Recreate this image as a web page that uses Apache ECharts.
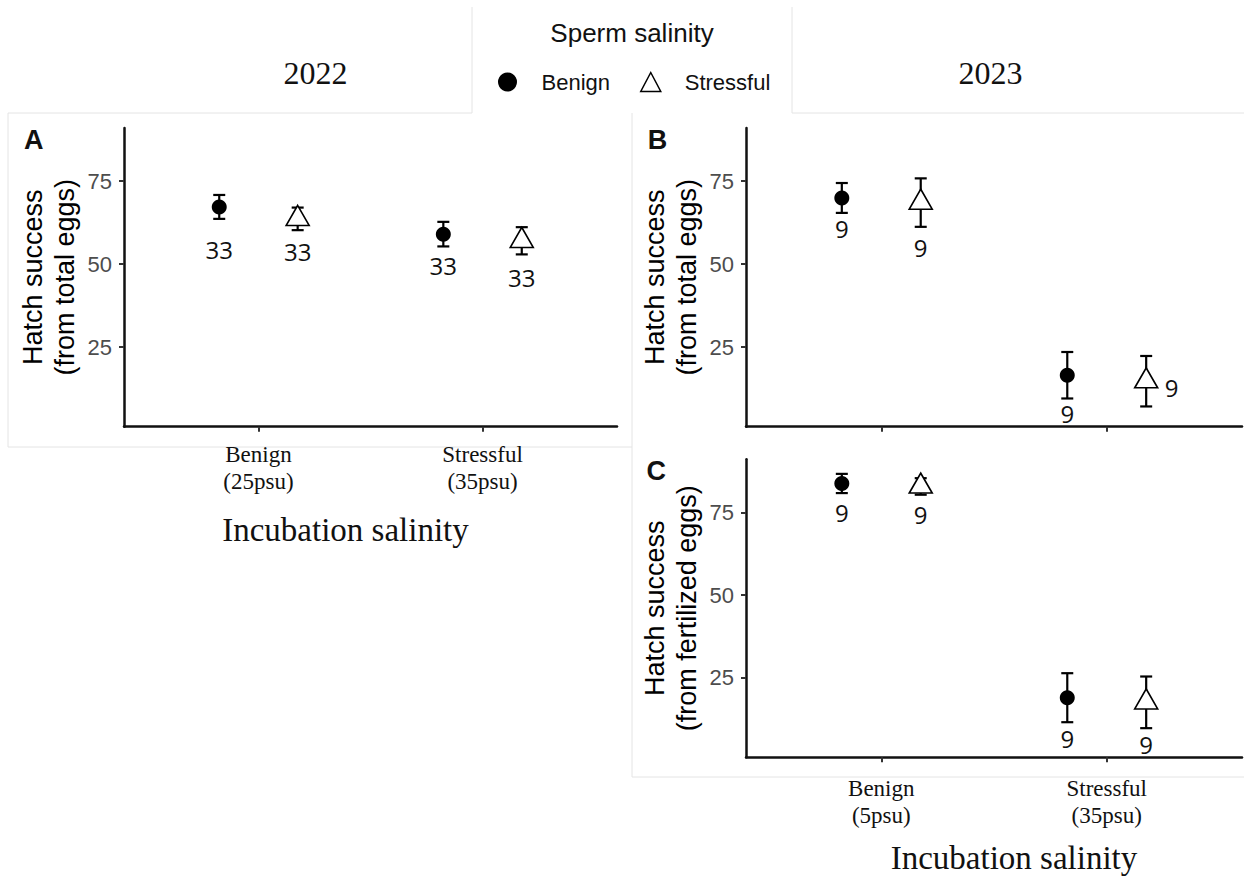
<!DOCTYPE html>
<html>
<head>
<meta charset="utf-8">
<title>Hatch success by incubation and sperm salinity</title>
<script src="https://cdn.jsdelivr.net/npm/echarts@6/dist/echarts.min.js"></script>
<style>
  html, body { margin: 0; padding: 0; background: #ffffff; }
  #chart { width: 1244px; height: 878px; }
</style>
</head>
<body>
<div id="chart"></div>
<script>
// Incubation salinity groups and axis tick labels
const incubationGroups = ['Benign', 'Stressful'];
const xLabels2022 = ['Benign\n(25psu)', 'Stressful\n(35psu)'];
const xLabels2023 = ['Benign\n(5psu)', 'Stressful\n(35psu)'];
const yTickValues = [25, 50, 75];

// A - 2022, hatch success (% of total eggs): mean, standard error, sample size
const a_benignSpermMean = [67.2, 59.0];
const a_benignSpermSE = [3.6, 3.7];
const a_benignSpermN = [33, 33];
const a_stressSpermMean = [63.6, 57.0];
const a_stressSpermSE = [3.4, 4.1];
const a_stressSpermN = [33, 33];

// B - 2023, hatch success (% of total eggs)
const b_benignSpermMean = [69.9, 16.5];
const b_benignSpermSE = [4.5, 7.0];
const b_benignSpermN = [9, 9];
const b_stressSpermMean = [68.5, 14.7];
const b_stressSpermSE = [7.3, 7.6];
const b_stressSpermN = [9, 9];

// C - 2023, hatch success (% of fertilized eggs)
const c_benignSpermMean = [83.7, 19.0];
const c_benignSpermSE = [2.9, 7.4];
const c_benignSpermN = [9, 9];
const c_stressSpermMean = [82.8, 17.6];
const c_stressSpermSE = [2.5, 7.8];
const c_stressSpermN = [9, 9];

// Where the sample-size labels sit (hatch-success units; x shift in group units)
const a_labelY = { benign: [54.4, 49.5], stress: [53.7, 45.8] };
const b_labelY = { benign: [60.7, 4.9], stress: [55.1, 12.7] };
const c_labelY = { benign: [74.9, 6.8], stress: [74.2, 4.8] };
const b_stressLabelDx = [0, 0.113];

const SANS = '"Liberation Sans", Arial, Helvetica, sans-serif';
const SERIF = '"Liberation Serif", "Times New Roman", serif';
const NFONT = '"Open Sans", "DejaVu Sans", sans-serif';
const INK = '#111111';
const FRAME = '#e4e4e4';
const DODGE = 0.175;

const chart = echarts.init(document.getElementById('chart'), null, { renderer: 'svg' });

function makeXAxis(gridIndex, labels, margin) {
  return {
    type: 'value', gridIndex: gridIndex, min: 0.4, max: 2.6,
    axisLine: { show: true, onZero: false, lineStyle: { color: INK, width: 2.5 } },
    axisTick: { show: true, customValues: [1, 2], length: 5, lineStyle: { color: '#333', width: 2 } },
    axisLabel: labels ? {
      show: true, customValues: [1, 2],
      formatter: function (v) { return labels[Math.round(v) - 1]; },
      fontFamily: SERIF, fontSize: 23, lineHeight: 27, color: INK, margin: margin
    } : { show: false },
    splitLine: { show: false }
  };
}

function makeYAxis(gridIndex, title) {
  return {
    type: 'value', gridIndex: gridIndex, min: 1, max: 91,
    name: title, nameLocation: 'middle', nameRotate: 90, nameGap: 43,
    nameTextStyle: { fontFamily: SANS, fontSize: 27, lineHeight: 32, color: '#000' },
    axisLine: { show: true, onZero: false, lineStyle: { color: INK, width: 2.5 } },
    axisTick: { show: true, customValues: yTickValues, length: 5, lineStyle: { color: '#333', width: 2 } },
    axisLabel: { show: true, customValues: yTickValues, fontFamily: SANS, fontSize: 22, color: '#4d4d4d', margin: 12 },
    splitLine: { show: false }
  };
}

function errorBarItem(params, api) {
  const x = api.value(0);
  const top = api.coord([x, api.value(2)]);
  const bot = api.coord([x, api.value(1)]);
  const half = 6;
  const style = { stroke: '#000', lineWidth: 2.2, fill: null };
  return {
    type: 'group',
    children: [
      { type: 'line', shape: { x1: top[0], y1: top[1], x2: bot[0], y2: bot[1] }, style: style },
      { type: 'line', shape: { x1: top[0] - half, y1: top[1], x2: top[0] + half, y2: top[1] }, style: style },
      { type: 'line', shape: { x1: bot[0] - half, y1: bot[1], x2: bot[0] + half, y2: bot[1] }, style: style }
    ]
  };
}

function countLabelItem(params, api) {
  const p = api.coord([api.value(0), api.value(1)]);
  return {
    type: 'text', x: p[0], y: p[1],
    style: {
      text: String(api.value(2)), font: '24px ' + NFONT, fill: INK,
      align: 'center', verticalAlign: 'middle', textAlign: 'center', textVerticalAlign: 'middle'
    }
  };
}

function panelSeries(g, bMean, bSE, bN, sMean, sSE, sN, labelY, stressDx) {
  const xb = incubationGroups.map(function (_, i) { return i + 1 - DODGE; });
  const xs = incubationGroups.map(function (_, i) { return i + 1 + DODGE; });
  const dx = stressDx || [0, 0];
  const bars = [];
  incubationGroups.forEach(function (_, i) {
    bars.push([xb[i], bMean[i] - bSE[i], bMean[i] + bSE[i]]);
    bars.push([xs[i], sMean[i] - sSE[i], sMean[i] + sSE[i]]);
  });
  const labels = [];
  incubationGroups.forEach(function (_, i) {
    labels.push([xb[i], labelY.benign[i], bN[i]]);
    labels.push([xs[i] + dx[i], labelY.stress[i], sN[i]]);
  });
  return [
    {
      name: 'se' + g, type: 'custom', xAxisIndex: g, yAxisIndex: g, z: 2,
      renderItem: errorBarItem, encode: { x: 0, y: [1, 2] }, data: bars, silent: true
    },
    {
      name: 'Benign', type: 'scatter', xAxisIndex: g, yAxisIndex: g, z: 3,
      symbol: 'circle', symbolSize: 15,
      itemStyle: { color: '#000', opacity: 1 },
      data: xb.map(function (x, i) { return [x, bMean[i]]; }), silent: true
    },
    {
      name: 'Stressful', type: 'scatter', xAxisIndex: g, yAxisIndex: g, z: 3,
      symbol: 'triangle', symbolSize: [23, 20], symbolOffset: [0, -3.4],
      itemStyle: { color: '#fff', borderColor: '#000', borderWidth: 1.6, opacity: 1 },
      data: xs.map(function (x, i) { return [x, sMean[i]]; }), silent: true
    },
    {
      name: 'n' + g, type: 'custom', xAxisIndex: g, yAxisIndex: g, z: 4,
      renderItem: countLabelItem, encode: { x: 0, y: 1 }, data: labels, silent: true
    }
  ];
}

function txt(x, y, text, font, extra) {
  return Object.assign({
    type: 'text', x: x, y: y, silent: true, z: 10,
    style: {
      text: text, font: font, fill: INK,
      align: 'center', verticalAlign: 'middle', textAlign: 'center', textVerticalAlign: 'middle'
    }
  }, extra || {});
}

function frameLine(x1, y1, x2, y2) {
  return { type: 'line', silent: true, z: -5, shape: { x1: x1, y1: y1, x2: x2, y2: y2 }, style: { stroke: FRAME, lineWidth: 1 } };
}

const option = {
  backgroundColor: '#ffffff',
  animation: false,
  grid: [
    { left: 124, top: 127.9, width: 493, height: 298.8, outerBoundsMode: 'none', containLabel: false },
    { left: 746, top: 127.9, width: 496, height: 298.8, outerBoundsMode: 'none', containLabel: false },
    { left: 746, top: 459.3, width: 496, height: 298.0, outerBoundsMode: 'none', containLabel: false }
  ],
  xAxis: [
    makeXAxis(0, xLabels2022, 14),
    makeXAxis(1, null, 0),
    makeXAxis(2, xLabels2023, 17.5)
  ],
  yAxis: [
    makeYAxis(0, 'Hatch success\n(from total eggs)'),
    makeYAxis(1, 'Hatch success\n(from total eggs)'),
    makeYAxis(2, 'Hatch success\n(from fertilized eggs)')
  ],
  legend: {
    data: ['Benign', { name: 'Stressful', itemStyle: { borderWidth: 1.5 } }],
    left: 498, top: 71, padding: 0, itemGap: 30,
    itemWidth: 20, itemHeight: 19, selectedMode: false,
    textStyle: { fontFamily: SANS, fontSize: 22, color: INK, padding: [0, 0, 0, 19] }
  },
  tooltip: { show: false },
  graphic: {
    elements: [
      // faint frames around the pieces of the figure
      frameLine(8, 113, 472, 113),
      frameLine(792, 113, 1244, 113),
      frameLine(8, 113, 8, 447),
      frameLine(8, 447, 632, 447),
      frameLine(632, 113, 632, 777),
      frameLine(632, 777, 1244, 777),
      frameLine(472, 7, 472, 113),
      frameLine(792, 7, 792, 113),
      // year headings and legend title
      txt(315.6, 72.5, '2022', '32px ' + SERIF),
      txt(990.5, 72.5, '2023', '32px ' + SERIF),
      txt(632, 33, 'Sperm salinity', '26px ' + SANS),
      // panel letters
      txt(33.7, 140.3, 'A', 'bold 27px ' + SANS),
      txt(657.4, 140, 'B', 'bold 27px ' + SANS),
      txt(656.3, 470.8, 'C', 'bold 27px ' + SANS),
      // shared x-axis titles
      txt(345.5, 529.5, 'Incubation salinity', '33px ' + SERIF),
      txt(1014, 858, 'Incubation salinity', '33px ' + SERIF)
    ]
  },
  series: [].concat(
    panelSeries(0, a_benignSpermMean, a_benignSpermSE, a_benignSpermN,
      a_stressSpermMean, a_stressSpermSE, a_stressSpermN, a_labelY),
    panelSeries(1, b_benignSpermMean, b_benignSpermSE, b_benignSpermN,
      b_stressSpermMean, b_stressSpermSE, b_stressSpermN, b_labelY, b_stressLabelDx),
    panelSeries(2, c_benignSpermMean, c_benignSpermSE, c_benignSpermN,
      c_stressSpermMean, c_stressSpermSE, c_stressSpermN, c_labelY)
  )
};

chart.setOption(option);
</script>
</body>
</html>
